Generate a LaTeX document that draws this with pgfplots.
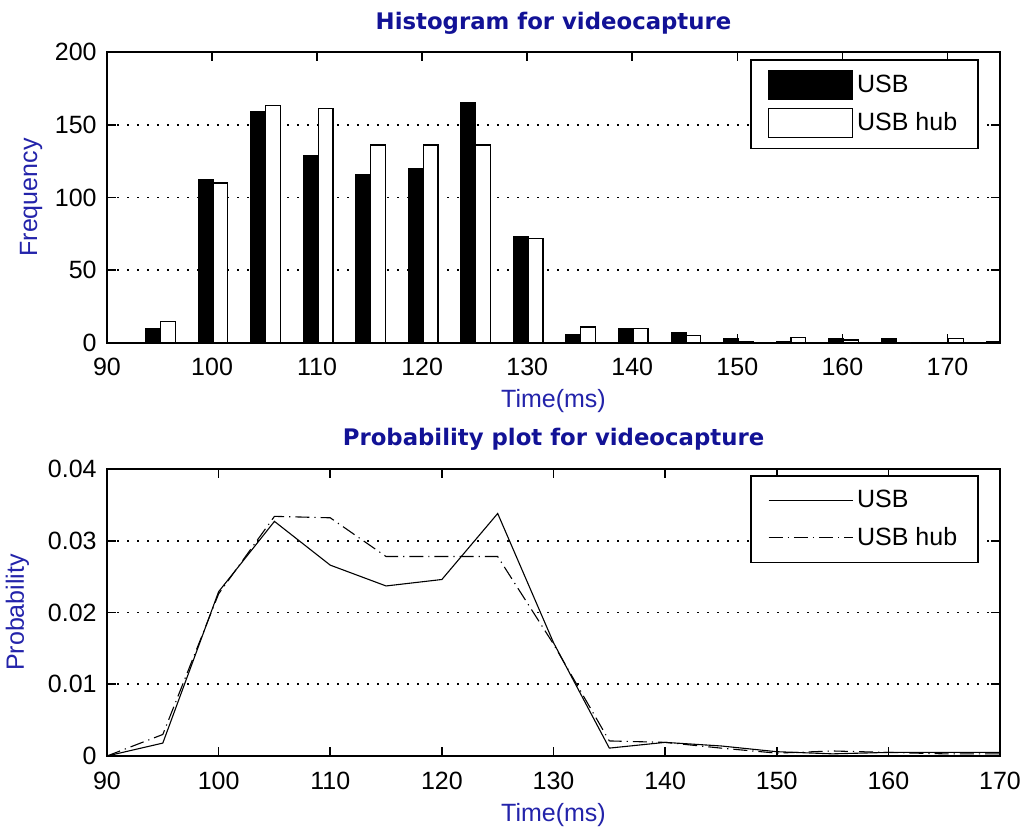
\documentclass[border=0pt]{standalone}
\usepackage{pgfplots}
\pgfplotsset{compat=1.18}
\usepackage{pgfplotstable}
\usepackage{fontspec}
\setmainfont{Liberation Sans}
\newfontfamily\headfont{DejaVu Sans}

\definecolor{titleblue}{RGB}{18,18,150}
\definecolor{labelblue}{RGB}{35,35,170}

% frame counts per 5 ms bin
\pgfplotstableread{
t    usb  hub
95   10   15
100  112  110
105  159  163
110  129  161
115  116  136
120  120  136
125  165  136
130  73   72
135  6    11
140  10   10
145  7    5
150  3    1
155  1    4
160  3    2
165  3    0
170  0    3
175  1    0
}\histdata

% probability per ms
\pgfplotstableread{
t    usb     hub
90   0       0
95   0.0018  0.0030
100  0.0229  0.0226
105  0.0327  0.0334
110  0.0266  0.0332
115  0.0237  0.0278
120  0.0246  0.0278
125  0.0338  0.0278
130  0.0158  0.0156
135  0.0011  0.0021
140  0.0019  0.0019
145  0.0014  0.0011
150  0.0006  0.0004
155  0.0003  0.0007
160  0.0005  0.0005
165  0.0005  0.0003
170  0.0005  0.0003
}\probdata

\newcommand{\lblfont}{\fontsize{12.5}{15}\selectfont}

\pgfplotsset{
  matstyle/.style={
    scale only axis,
    width=446.5pt,
    axis line style={line width=0.8pt},
    tick style={line width=0.8pt, black},
    tick align=inside,
    major tick length=4.5pt,
    xtick pos=both, ytick pos=both,
    xticklabel pos=lower, yticklabel pos=left,
    ymajorgrids,
    major grid style={line width=0.8pt, dash pattern=on 0.8pt off 4.2pt, black},
    tick label style={font=\lblfont, /pgf/number format/assume math mode=true},
    xticklabel style={anchor=base, yshift=-16.5pt},
    yticklabel style={anchor=east, inner sep=0pt, xshift=-5pt},
    title style={font=\headfont\bfseries\fontsize{11.4}{13}\selectfont, text=titleblue,
      at={(axis description cs:0.5,1)}, anchor=base, yshift=5pt},
    xlabel style={font=\lblfont, text=labelblue,
      at={(axis description cs:0.5,0)}, anchor=base, yshift=-32.5pt},
    legend cell align=left,
  },
}

\begin{document}
\begin{tikzpicture}
\useasboundingbox (0,0) rectangle (513.5pt,-416.5pt);

% histogram
\begin{axis}[matstyle,
  at={(53.5pt,-171.5pt)}, anchor=south west,
  height=145.5pt,
  xmin=90, xmax=175, ymin=0, ymax=200,
  xtick={90,100,...,170},
  ytick={0,50,100,150,200},
  title={Histogram for videocapture},
  xlabel={Time(ms)},
  ylabel={Frequency},
  ylabel style={font=\lblfont, text=labelblue,
    at={([xshift=-35pt]axis description cs:0,0.5)}, anchor=base},
  legend style={at={(0.9765,0.976)}, anchor=north east, draw=black, line width=0.8pt,
    fill=white, inner xsep=8.5pt, inner ysep=5pt, row sep=4pt, font=\lblfont,
    nodes={inner sep=2pt}},
]
\addplot[ybar, bar width=1.4, bar shift=-0.6, fill=black, draw=black, line width=0.65pt,
  legend image code/.code={\draw[fill=black, draw=black, line width=0.65pt] (0pt,-7.25pt) rectangle (42pt,7.25pt);}]
  table[x=t, y=usb]{\histdata};
\addplot[ybar, bar width=1.4, bar shift=0.8, fill=white, draw=black, line width=0.65pt,
  legend image code/.code={\draw[fill=white, draw=black, line width=0.65pt] (0pt,-7.25pt) rectangle (42pt,7.25pt);}]
  table[x=t, y=hub]{\histdata};
\legend{USB, USB hub}
\end{axis}

% probability curves
\begin{axis}[matstyle,
  at={(53.5pt,-378pt)}, anchor=south west,
  height=143.5pt,
  xmin=90, xmax=170, ymin=0, ymax=0.04,
  xtick={90,100,...,170},
  ytick={0,0.01,0.02,0.03,0.04},
  scaled y ticks=false,
  yticklabel style={/pgf/number format/fixed, /pgf/number format/precision=2},
  title={Probability plot for videocapture},
  title style={yshift=0.5pt},
  xlabel={Time(ms)},
  ylabel={Probability},
  ylabel style={font=\lblfont, text=labelblue,
    at={([xshift=-41.5pt]axis description cs:0,0.5)}, anchor=base},
  legend style={at={(0.9765,0.979)}, anchor=north east, draw=black, line width=0.8pt,
    fill=white, inner xsep=8.5pt, inner ysep=5pt, row sep=4.5pt, font=\lblfont,
    nodes={inner sep=2pt}},
]
\addplot[black, line width=0.55pt,
  legend image code/.code={\draw[black, line width=0.55pt] (0pt,0pt) -- (42pt,0pt);}]
  table[x=t, y=usb]{\probdata};
\addplot[black, line width=0.55pt, dash pattern=on 7pt off 2.5pt on 0.6pt off 2.5pt,
  legend image code/.code={\draw[black, line width=0.55pt, dash pattern=on 7pt off 2.5pt on 0.6pt off 2.5pt] (0pt,0pt) -- (42pt,0pt);}]
  table[x=t, y=hub]{\probdata};
\legend{USB, USB hub}
\end{axis}
\end{tikzpicture}
\end{document}
